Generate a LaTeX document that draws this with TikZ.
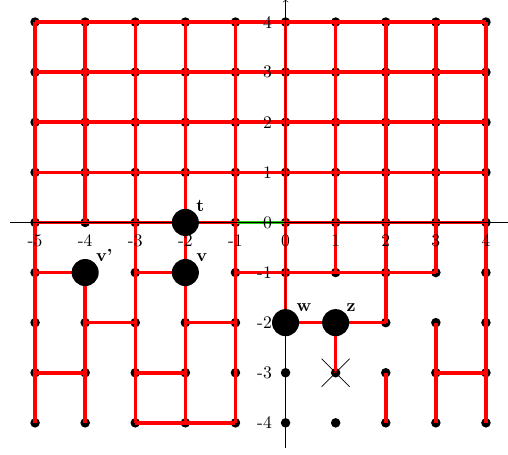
\documentclass[tikz,border=0pt]{standalone}
\usepackage{amsmath,amsthm,amssymb}
\usepackage{tikz}
\definecolor{pathgreen}{RGB}{40,205,20}

\begin{document}
\begin{tikzpicture}[edge/.style={red,line width=2pt},
  bigdot/.style={circle,fill=black,inner sep=0pt,minimum size=5.4mm},
  tag/.style={font=\bfseries,inner sep=0.5pt}]
\useasboundingbox (-5.7,-4.64) rectangle (4.44,4.44);
\foreach \x in {-5,...,4}
  \foreach \y in {-4,...,4}
    \coordinate (p\x\y) at (\x,\y);
\foreach \x in {-5,...,4}
  \foreach \y in {-4,...,4}
    \fill (p\x\y) circle (0.095);
\foreach \y in {1,...,4}
  \draw[edge] (p-5\y)--(p4\y);
\draw[edge] (p-50)--(p-10);
\draw[edge] (p00)--(p40);
\draw[pathgreen,line width=1.6pt] (p-10)--(p00);
\draw[edge] (p-5-1)--(p-4-1);
\draw[edge] (p-3-1)--(p-2-1);
\draw[edge] (p-1-1)--(p3-1);
\draw[edge] (p-4-2)--(p-3-2);
\draw[edge] (p-2-2)--(p-1-2);
\draw[edge] (p0-2)--(p2-2);
\draw[edge] (p-5-3)--(p-4-3);
\draw[edge] (p-3-3)--(p-2-3);
\draw[edge] (p3-3)--(p4-3);
\draw[edge] (p-3-4)--(p-1-4);
\foreach \x in {-5,-3,-2,-1,4}
  \draw[edge] (p\x-4)--(p\x4);
\draw[edge] (p-4-4)--(p-4-1);
\draw[edge] (p-40)--(p-44);
\draw[edge] (p0-2)--(p04);
\draw[edge] (p1-1)--(p14);
\draw[edge] (p1-3)--(p1-2);
\draw[edge] (p2-2)--(p24);
\draw[edge] (p2-4)--(p2-3);
\draw[edge] (p3-1)--(p34);
\draw[edge] (p3-4)--(p3-2);
\draw[->,line width=0.3pt] (-5.5,0)--(4.5,0);
\draw[->,line width=0.3pt] (0,-4.5)--(0,4.45);
\draw (p1-3) ++(-0.28,0.28)--++(0.56,-0.56);
\draw (p1-3) ++(0.28,0.28)--++(-0.56,-0.56);
\node[bigdot,label={[tag]45:t}] (t) at (p-20) {};
\node[bigdot,label={[tag]45:v}] (v) at (p-2-1) {};
\node[bigdot,label={[tag]45:v'}] (v') at (p-4-1) {};
\node[bigdot,label={[tag]45:w}] (w) at (p0-2) {};
\node[bigdot,label={[tag]45:z}] (z) at (p1-2) {};
\foreach \x in {-5,...,4}
  \node (lx\x) at (\x,-0.36) {\x};
\foreach \y in {-4,...,4}
  \node[anchor=east] (ly\y) at (-0.15,\y) {\y};
\end{tikzpicture}
\end{document}
